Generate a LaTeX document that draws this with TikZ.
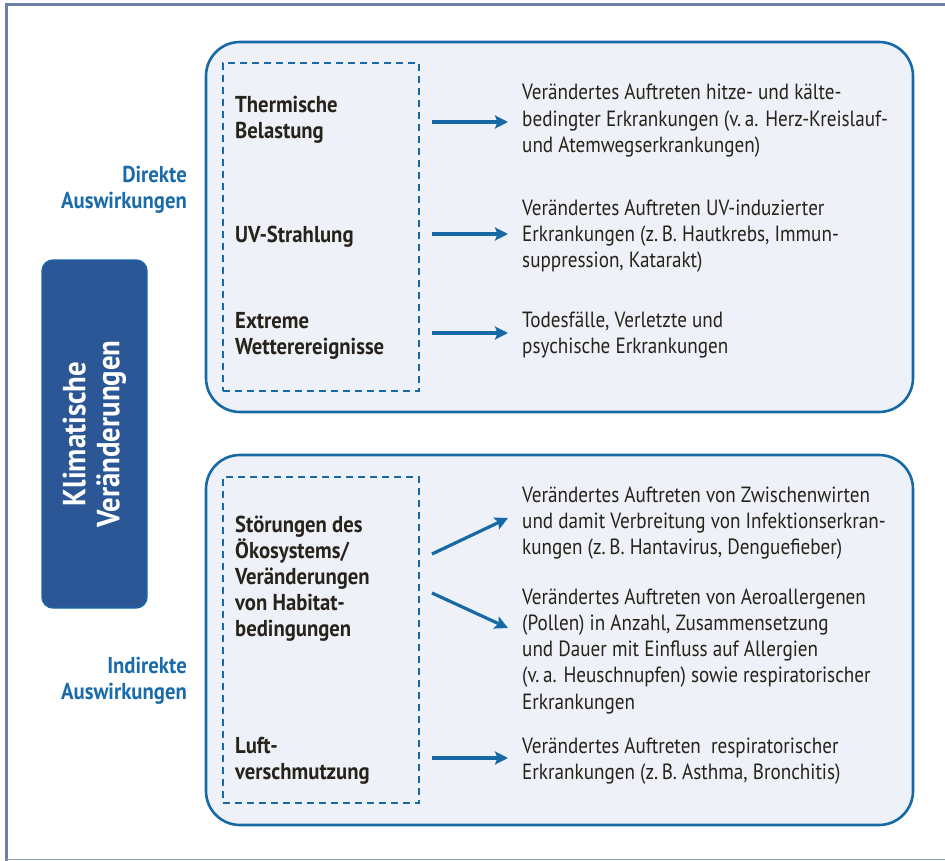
\documentclass[tikz,border=0pt]{standalone}
\usepackage{fontspec}
\setmainfont{PT Sans}[FakeStretch=0.87, BoldFeatures={FakeStretch=0.9}]
\usetikzlibrary{arrows.meta}
\definecolor{frameC}{HTML}{6E7FAA}
\definecolor{boxC}{HTML}{1769A6}
\definecolor{fillC}{HTML}{EEF1F8}
\definecolor{darkC}{HTML}{2C5796}
\definecolor{txtC}{HTML}{27231A}
\definecolor{lblC}{HTML}{1A6BAA}
\newcommand{\lefttxt}[1]{\parbox[t]{400pt}{\raggedright #1}}
\newcommand{\righttxt}[1]{\parbox[t]{200pt}{\raggedleft #1}}
\tikzset{
  bigbox/.style={draw=boxC, line width=2.6pt, fill=fillC, rounded corners=34pt, inner sep=0pt},
  dashbox/.style={draw=boxC, line width=2.4pt, dash pattern=on 7pt off 5pt, inner sep=0pt},
  mainbox/.style={draw=boxC, line width=1.4pt, fill=darkC, rounded corners=11pt, inner sep=0pt},
  cause/.style={anchor=base west, inner sep=0pt, text=txtC, font=\fontsize{23}{26}\selectfont\bfseries},
  effect/.style={anchor=base west, inner sep=0pt, text=txtC, font=\fontsize{22}{26.3}\selectfont},
  side/.style={anchor=base east, inner sep=0pt, text=lblC, font=\fontsize{23}{26}\selectfont\bfseries},
  arr/.style={draw=boxC, line width=3.2pt, -{Stealth[length=13pt,width=13pt,inset=2.5pt]}},
}
\begin{document}
\begin{tikzpicture}[x=1pt,y=-1pt]
\useasboundingbox (0,0) rectangle (945,861);
% outer frame
\draw[frameC, line width=3pt] (6,861) -- (6,5) -- (945,5);
\draw[frameC!75, line width=1.2pt] (6,859.6) -- (945,859.6);
% main box
\node[mainbox, minimum width=105pt, minimum height=348pt] (main) at (94.5,434) {};
\node[rotate=90, text=white, align=center, inner sep=0pt, font=\fontsize{32}{34}\selectfont\bfseries] (maintxt) at (main.center) {Klimatische\\Veränderungen};
% side labels
\node[side] (direkt) at (187,183) {\righttxt{Direkte\\Auswirkungen}};
\node[side] (indirekt) at (187,673) {\righttxt{Indirekte\\Auswirkungen}};
% big boxes
\node[bigbox, minimum width=707pt, minimum height=370pt] (upper) at (559.5,227) {};
\node[bigbox, minimum width=707pt, minimum height=370pt] (lower) at (559.5,640) {};
\node[dashbox, minimum width=196pt, minimum height=328pt] (udash) at (321,227) {};
\node[dashbox, minimum width=196pt, minimum height=326pt] (ldash) at (321,640) {};
% causes
\node[cause] (c1) at (235,113) {\lefttxt{Thermische\\Belastung}};
\node[cause] (c2) at (235,243) {\lefttxt{UV-Strahlung}};
\node[cause] (c3) at (235,328) {\lefttxt{Extreme\\Wetterereignisse}};
\node[cause] (c4) at (235,532) {\lefttxt{Störungen des\\Ökosystems/\\Veränderungen\\von Habitat-\\bedingungen}};
\node[cause] (c5) at (235,753) {\lefttxt{Luft-\\verschmutzung}};
% effects
\node[effect] (e1) at (522,100) {\lefttxt{Verändertes Auftreten hitze- und kälte-\\bedingter Erkrankungen (v.\,a. Herz-Kreislauf-\\und Atemwegserkrankungen)}};
\node[effect] (e2) at (522,215) {\lefttxt{Verändertes Auftreten UV-induzierter\\Erkrankungen (z.\,B. Hautkrebs, Immun-\\suppression, Katarakt)}};
\node[effect] (e3) at (522,327) {\lefttxt{Todesfälle, Verletzte und\\psychische Erkrankungen}};
\node[effect] (e4) at (522,502) {\lefttxt{Verändertes Auftreten von Zwischenwirten\\und damit Verbreitung von Infektionserkran-\\kungen (z.\,B. Hantavirus, Denguefieber)}};
\node[effect] (e5) at (522,604) {\lefttxt{Verändertes Auftreten von Aeroallergenen\\(Pollen) in Anzahl, Zusammensetzung\\und Dauer mit Einfluss auf Allergien\\(v.\,a. Heuschnupfen) sowie respiratorischer\\Erkrankungen}};
\node[effect] (e6) at (522,753) {\lefttxt{Verändertes Auftreten\ \ respiratorischer\\Erkrankungen (z.\,B. Asthma, Bronchitis)}};
% arrow end points
\coordinate (a1s) at (432,122); \coordinate (a1e) at (508,122);
\coordinate (a2s) at (432,234); \coordinate (a2e) at (508,234);
\coordinate (a3s) at (432,333); \coordinate (a3e) at (508,333);
\coordinate (a4s) at (432,554); \coordinate (a4e) at (508,518);
\coordinate (a5s) at (432,593); \coordinate (a5e) at (508,628);
\coordinate (a6s) at (432,758); \coordinate (a6e) at (508,758);
\draw[arr] (a1s) -- (a1e);
\draw[arr] (a2s) -- (a2e);
\draw[arr] (a3s) -- (a3e);
\draw[arr] (a4s) -- (a4e);
\draw[arr] (a5s) -- (a5e);
\draw[arr] (a6s) -- (a6e);
\end{tikzpicture}
\end{document}
